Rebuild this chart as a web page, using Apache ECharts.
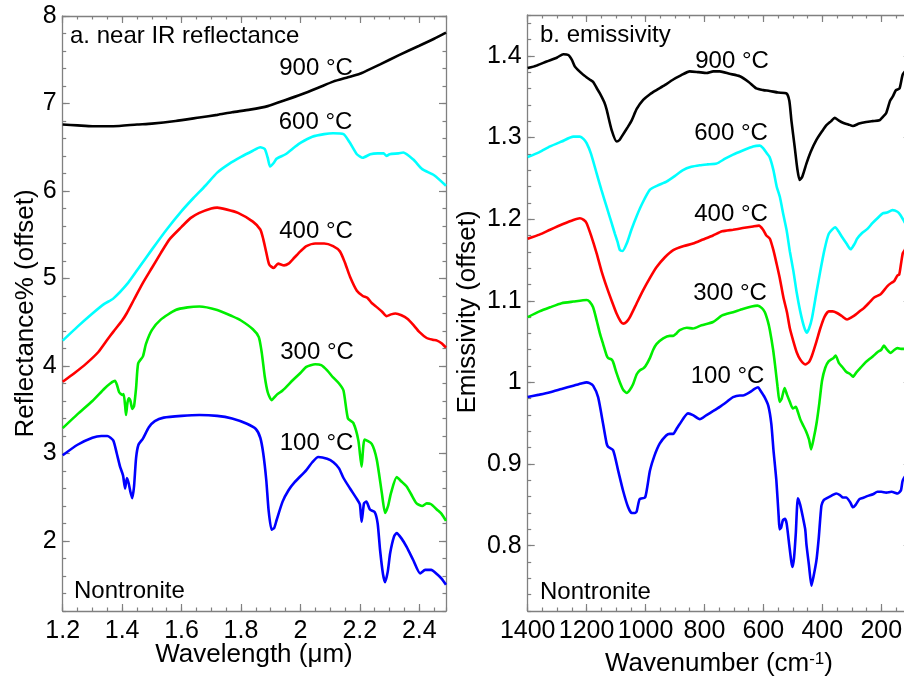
<!DOCTYPE html>
<html><head><meta charset="utf-8">
<script src="https://cdn.jsdelivr.net/npm/echarts@6/dist/echarts.min.js"></script>
<style>html,body{margin:0;padding:0;background:#fff}#c{width:904px;height:680px}</style>
</head><body><div id="c"></div>
<script>
// ---------- DATA ----------
// a. near IR reflectance: [wavelength (um), reflectance% (offset)]
const nir900 = [[1.20,6.76],[1.25,6.75],[1.30,6.74],[1.37,6.74],[1.45,6.76],[1.50,6.77],[1.58,6.80],[1.66,6.84],[1.72,6.87],[1.77,6.90],[1.83,6.93],[1.89,6.97],[1.95,7.04],[2.00,7.10],[2.06,7.18],[2.11,7.25],[2.16,7.30],[2.20,7.34],[2.22,7.37],[2.27,7.45],[2.33,7.55],[2.40,7.66],[2.45,7.74],[2.49,7.81]];
const nir600 = [[1.20,4.29],[1.25,4.45],[1.30,4.60],[1.34,4.71],[1.37,4.77],[1.42,4.95],[1.46,5.14],[1.50,5.33],[1.55,5.56],[1.60,5.77],[1.64,5.92],[1.68,6.06],[1.72,6.21],[1.76,6.31],[1.80,6.39],[1.84,6.46],[1.865,6.50],[1.88,6.48],[1.89,6.38],[1.898,6.28],[1.91,6.32],[1.92,6.37],[1.95,6.42],[1.98,6.50],[2.00,6.55],[2.04,6.62],[2.08,6.65],[2.11,6.66],[2.145,6.65],[2.165,6.56],[2.19,6.42],[2.21,6.38],[2.235,6.42],[2.26,6.43],[2.28,6.43],[2.29,6.40],[2.30,6.42],[2.33,6.43],[2.346,6.44],[2.38,6.36],[2.41,6.25],[2.45,6.18],[2.49,6.06]];
const nir400 = [[1.20,3.82],[1.24,3.92],[1.28,4.03],[1.32,4.16],[1.35,4.30],[1.37,4.39],[1.40,4.52],[1.415,4.60],[1.44,4.76],[1.47,4.95],[1.50,5.12],[1.53,5.29],[1.56,5.45],[1.60,5.59],[1.63,5.69],[1.66,5.75],[1.70,5.80],[1.72,5.81],[1.75,5.79],[1.79,5.75],[1.84,5.65],[1.865,5.56],[1.875,5.45],[1.885,5.30],[1.895,5.16],[1.91,5.12],[1.925,5.17],[1.945,5.15],[1.96,5.17],[1.98,5.24],[2.00,5.31],[2.02,5.37],[2.05,5.40],[2.08,5.40],[2.11,5.37],[2.133,5.31],[2.15,5.18],[2.167,5.02],[2.19,4.86],[2.21,4.80],[2.225,4.78],[2.24,4.72],[2.258,4.67],[2.275,4.62],[2.29,4.57],[2.305,4.59],[2.32,4.60],[2.34,4.58],[2.36,4.54],[2.38,4.47],[2.40,4.39],[2.425,4.32],[2.445,4.30],[2.46,4.29],[2.475,4.26],[2.49,4.21]];
const nir300 = [[1.20,3.29],[1.25,3.45],[1.30,3.60],[1.34,3.74],[1.36,3.80],[1.376,3.83],[1.383,3.78],[1.39,3.70],[1.40,3.67],[1.405,3.68],[1.41,3.55],[1.413,3.44],[1.418,3.58],[1.423,3.63],[1.428,3.60],[1.434,3.51],[1.44,3.54],[1.447,3.75],[1.454,4.03],[1.47,4.11],[1.48,4.25],[1.50,4.41],[1.53,4.53],[1.58,4.64],[1.62,4.67],[1.66,4.68],[1.72,4.64],[1.77,4.57],[1.80,4.52],[1.84,4.42],[1.86,4.33],[1.87,4.15],[1.88,3.88],[1.89,3.70],[1.903,3.61],[1.92,3.67],[1.94,3.72],[1.975,3.84],[2.00,3.92],[2.02,3.99],[2.05,4.02],[2.07,4.01],[2.09,3.95],[2.11,3.87],[2.13,3.80],[2.145,3.72],[2.16,3.40],[2.178,3.35],[2.195,3.15],[2.206,2.85],[2.216,3.16],[2.24,3.11],[2.257,2.93],[2.274,2.55],[2.285,2.32],[2.295,2.40],[2.305,2.55],[2.324,2.73],[2.34,2.68],[2.358,2.62],[2.375,2.52],[2.391,2.43],[2.41,2.40],[2.425,2.43],[2.44,2.42],[2.459,2.36],[2.475,2.31],[2.49,2.23]];
const nir100 = [[1.20,2.98],[1.25,3.10],[1.30,3.18],[1.33,3.20],[1.35,3.20],[1.37,3.15],[1.382,3.00],[1.393,2.85],[1.403,2.75],[1.41,2.60],[1.416,2.72],[1.422,2.66],[1.428,2.56],[1.434,2.49],[1.44,2.62],[1.447,2.95],[1.455,3.10],[1.47,3.17],[1.49,3.30],[1.51,3.37],[1.54,3.41],[1.60,3.43],[1.66,3.44],[1.72,3.43],[1.77,3.40],[1.82,3.34],[1.85,3.28],[1.865,3.18],[1.875,3.00],[1.885,2.70],[1.893,2.35],[1.903,2.13],[1.912,2.15],[1.92,2.24],[1.94,2.45],[1.96,2.58],[1.98,2.67],[2.02,2.81],[2.04,2.90],[2.06,2.96],[2.09,2.94],[2.111,2.90],[2.13,2.83],[2.145,2.72],[2.167,2.60],[2.19,2.48],[2.20,2.42],[2.206,2.22],[2.214,2.43],[2.222,2.45],[2.234,2.36],[2.25,2.33],[2.26,2.20],[2.268,1.90],[2.278,1.62],[2.285,1.53],[2.294,1.65],[2.302,1.86],[2.315,2.05],[2.324,2.09],[2.34,2.03],[2.358,1.93],[2.38,1.78],[2.403,1.63],[2.42,1.67],[2.44,1.67],[2.46,1.62],[2.475,1.57],[2.49,1.50]];

// b. emissivity: [wavenumber (cm-1), emissivity (offset)]
const tir900 = [[1400,1.385],[1370,1.388],[1336,1.393],[1300,1.398],[1279,1.402],[1262,1.401],[1250,1.395],[1240,1.387],[1212,1.377],[1190,1.371],[1178,1.368],[1165,1.360],[1155,1.354],[1140,1.343],[1132,1.334],[1115,1.309],[1098,1.295],[1088,1.297],[1081,1.301],[1060,1.313],[1047,1.321],[1030,1.335],[1008,1.346],[985,1.353],[963,1.358],[935,1.364],[906,1.371],[880,1.376],[850,1.381],[820,1.380],[793,1.379],[770,1.381],[748,1.381],[715,1.378],[680,1.375],[650,1.368],[624,1.360],[600,1.358],[579,1.357],[550,1.355],[522,1.354],[512,1.345],[505,1.321],[494,1.289],[485,1.262],[477,1.248],[468,1.252],[454,1.268],[440,1.282],[420,1.297],[400,1.308],[386,1.315],[370,1.320],[358,1.324],[345,1.321],[330,1.318],[312,1.316],[296,1.314],[275,1.317],[251,1.319],[230,1.320],[206,1.321],[195,1.325],[183,1.330],[170,1.345],[161,1.350],[150,1.358],[138,1.360],[127,1.377],[110,1.385]];
const tir600 = [[1400,1.276],[1360,1.282],[1324,1.289],[1285,1.295],[1245,1.301],[1223,1.301],[1210,1.298],[1200,1.293],[1185,1.280],[1166,1.256],[1150,1.236],[1132,1.215],[1115,1.195],[1104,1.182],[1095,1.172],[1087,1.162],[1078,1.161],[1064,1.170],[1048,1.187],[1031,1.203],[1010,1.220],[985,1.236],[960,1.241],[929,1.246],[900,1.253],[873,1.260],[845,1.264],[816,1.266],[790,1.267],[759,1.268],[730,1.274],[703,1.279],[670,1.284],[635,1.289],[612,1.290],[601,1.287],[589,1.281],[579,1.276],[566,1.260],[555,1.240],[544,1.227],[532,1.205],[521,1.186],[510,1.160],[498,1.136],[487,1.110],[475,1.087],[462,1.068],[453,1.061],[445,1.066],[435,1.079],[420,1.110],[407,1.136],[393,1.162],[378,1.182],[356,1.190],[345,1.185],[333,1.178],[318,1.170],[304,1.163],[290,1.170],[282,1.176],[265,1.183],[247,1.188],[230,1.195],[213,1.201],[195,1.207],[180,1.208],[162,1.211],[145,1.209],[135,1.205],[122,1.197],[110,1.190]];
const tir400 = [[1400,1.176],[1360,1.181],[1324,1.187],[1280,1.194],[1245,1.199],[1223,1.201],[1210,1.199],[1200,1.195],[1185,1.180],[1166,1.158],[1150,1.137],[1132,1.117],[1115,1.100],[1098,1.084],[1085,1.075],[1076,1.072],[1065,1.074],[1053,1.080],[1030,1.097],[1008,1.113],[985,1.128],[963,1.141],[935,1.153],[906,1.162],[870,1.167],[839,1.170],[805,1.175],[771,1.180],[740,1.185],[703,1.187],[670,1.189],[635,1.191],[615,1.192],[601,1.187],[590,1.180],[578,1.176],[566,1.162],[555,1.145],[544,1.127],[532,1.104],[520,1.086],[510,1.066],[498,1.050],[487,1.037],[475,1.028],[458,1.022],[445,1.025],[435,1.033],[420,1.050],[407,1.066],[393,1.080],[378,1.087],[365,1.087],[350,1.085],[333,1.081],[316,1.077],[300,1.080],[287,1.083],[270,1.088],[259,1.091],[240,1.098],[224,1.104],[202,1.108],[190,1.113],[179,1.118],[165,1.122],[156,1.124],[145,1.131],[139,1.132],[133,1.145],[127,1.158],[122,1.161],[110,1.170]];
const tir300 = [[1400,1.080],[1360,1.087],[1324,1.092],[1285,1.097],[1245,1.099],[1200,1.101],[1190,1.099],[1178,1.092],[1166,1.076],[1155,1.060],[1144,1.047],[1132,1.033],[1127,1.030],[1115,1.028],[1110,1.025],[1098,1.011],[1087,1.000],[1076,0.991],[1064,0.987],[1053,0.991],[1042,0.998],[1030,1.010],[1019,1.015],[1008,1.017],[1000,1.020],[985,1.030],[974,1.040],[963,1.047],[940,1.054],[918,1.057],[906,1.057],[895,1.060],[884,1.064],[860,1.067],[839,1.066],[810,1.070],[771,1.074],[740,1.082],[703,1.086],[670,1.090],[640,1.093],[620,1.094],[605,1.091],[595,1.086],[585,1.075],[578,1.064],[567,1.040],[560,1.020],[552,0.995],[545,0.976],[538,0.980],[528,0.993],[520,0.985],[510,0.976],[500,0.968],[490,0.970],[484,0.965],[475,0.955],[466,0.948],[455,0.940],[445,0.930],[438,0.918],[430,0.930],[420,0.949],[410,0.975],[401,1.002],[390,1.018],[378,1.026],[362,1.030],[355,1.033],[344,1.024],[330,1.018],[319,1.013],[305,1.010],[296,1.007],[285,1.012],[270,1.018],[255,1.024],[242,1.028],[228,1.032],[213,1.037],[200,1.040],[191,1.045],[180,1.040],[168,1.036],[155,1.040],[145,1.042],[133,1.041],[122,1.041],[110,1.045]];
const tir100 = [[1400,0.982],[1360,0.985],[1324,0.988],[1285,0.992],[1245,0.996],[1215,0.999],[1200,1.000],[1190,0.999],[1178,0.996],[1161,0.982],[1144,0.949],[1132,0.925],[1127,0.921],[1110,0.917],[1093,0.892],[1076,0.867],[1059,0.847],[1047,0.840],[1036,0.840],[1030,0.842],[1020,0.857],[1002,0.859],[995,0.870],[985,0.892],[970,0.910],[952,0.925],[930,0.935],[918,0.937],[906,0.937],[895,0.943],[884,0.949],[856,0.962],[839,0.960],[816,0.955],[793,0.960],[770,0.965],[748,0.970],[725,0.976],[703,0.982],[680,0.984],[669,0.984],[646,0.988],[630,0.992],[618,0.994],[610,0.990],[596,0.982],[583,0.971],[573,0.949],[566,0.918],[556,0.880],[548,0.835],[545,0.820],[540,0.822],[534,0.831],[527,0.833],[521,0.827],[512,0.800],[505,0.780],[501,0.774],[496,0.785],[490,0.815],[483,0.858],[475,0.850],[466,0.835],[458,0.820],[454,0.802],[445,0.775],[437,0.751],[430,0.762],[420,0.782],[412,0.810],[403,0.849],[395,0.856],[386,0.858],[370,0.861],[353,0.864],[340,0.862],[330,0.859],[319,0.859],[305,0.853],[296,0.847],[287,0.850],[274,0.857],[259,0.859],[245,0.861],[228,0.863],[213,0.866],[200,0.866],[183,0.865],[165,0.866],[144,0.864],[133,0.868],[127,0.880],[110,0.890]];

// tick labels
const nirXTicks = [1.2, 1.4, 1.6, 1.8, 2.0, 2.2, 2.4];
const nirYTicks = [2, 3, 4, 5, 6, 7, 8];
const tirXTicks = [1400, 1200, 1000, 800, 600, 400, 200];
const tirYTicks = [0.8, 0.9, 1.0, 1.1, 1.2, 1.3, 1.4];
const tempLabels = ['900 °C', '600 °C', '400 °C', '300 °C', '100 °C'];
const seriesColors = ['#000000', '#00ffff', '#ff0000', '#00ee00', '#0000ff'];

// ---------- CHART ----------
const FONT = '"Liberation Sans", Arial, Helvetica, sans-serif';
const AX = '#808080';
const chart = echarts.init(document.getElementById('c'), null, {renderer: 'canvas'});

function fmt(v) { return String(+(+v).toFixed(3)); }

function axisSet(dim, grid, pos, min, max, step, majors, labels, inverse) {
  const minor = {
    type: 'value', gridIndex: grid, position: pos, min: min, max: max, interval: step, inverse: !!inverse,
    axisLine: {show: true, onZero: false, lineStyle: {color: AX, width: 1.3}},
    axisTick: {show: true, inside: true, length: 3.5, lineStyle: {color: AX, width: 1.2}},
    axisLabel: {show: false}, splitLine: {show: false}, minorTick: {show: false}
  };
  const major = {
    type: 'value', gridIndex: grid, position: pos, min: min, max: max, inverse: !!inverse,
    axisLine: {show: false, onZero: false},
    axisTick: {show: true, inside: true, length: 7, customValues: majors, lineStyle: {color: AX, width: 1.2}},
    axisLabel: {show: labels, customValues: majors, formatter: fmt, color: '#000', fontSize: 25,
      fontFamily: FONT, margin: dim === 'x' ? 8 : 6, hideOverlap: false, showMinLabel: true, showMaxLabel: true},
    splitLine: {show: false}
  };
  return [minor, major];
}

const xAxes = [].concat(
  axisSet('x', 0, 'bottom', 1.2, 2.49, 0.05, nirXTicks, true, false),
  axisSet('x', 0, 'top', 1.2, 2.49, 0.05, nirXTicks, false, false),
  axisSet('x', 1, 'bottom', 100, 1400, 50, tirXTicks, true, true),
  axisSet('x', 1, 'top', 100, 1400, 50, tirXTicks, false, true)
);
const yAxes = [].concat(
  axisSet('y', 0, 'left', 1.2, 8, 0.2, nirYTicks, true, false),
  axisSet('y', 0, 'right', 1.2, 8, 0.2, nirYTicks, false, false),
  axisSet('y', 1, 'left', 0.72, 1.45, 0.02, tirYTicks, true, false),
  axisSet('y', 1, 'right', 0.72, 1.45, 0.02, tirYTicks, false, false)
);

const nirSets = [nir900, nir600, nir400, nir300, nir100];
const tirSets = [tir900, tir600, tir400, tir300, tir100];
const series = [];
nirSets.forEach((d, i) => series.push({
  type: 'line', name: 'nir ' + tempLabels[i], xAxisIndex: 0, yAxisIndex: 0, data: d,
  showSymbol: false, symbol: 'none', smooth: 0.2, animation: false,
  lineStyle: {color: seriesColors[i], width: 2.6}, itemStyle: {color: seriesColors[i]}
}));
tirSets.forEach((d, i) => series.push({
  type: 'line', name: 'tir ' + tempLabels[i], xAxisIndex: 4, yAxisIndex: 4, data: d,
  showSymbol: false, symbol: 'none', smooth: 0.2, animation: false,
  lineStyle: {color: seriesColors[i], width: 2.6}, itemStyle: {color: seriesColors[i]}
}));

function txt(x, y, s, size, align, rot) {
  return {type: 'text', x: x, y: y, rotation: rot || 0, silent: true,
    style: {text: s, fill: '#000', font: size + 'px ' + FONT, align: align || 'center', verticalAlign: 'middle'}};
}
const nirLabelPos = [[316, 68], [315.5, 122.5], [316, 231], [317, 352], [316.5, 443]];
const tirLabelPos = [[732, 61.5], [731, 133.5], [731, 214], [730, 293.5], [727.5, 376]];
const graphics = [
  txt(70, 36, 'a. near IR reflectance', 24, 'left'),
  txt(540, 35, 'b. emissivity', 24, 'left'),
  txt(74, 591, 'Nontronite', 24, 'left'),
  txt(540, 592, 'Nontronite', 24, 'left'),
  txt(26, 313.5, 'Reflectance% (offset)', 26, 'center', Math.PI / 2),
  txt(468, 312, 'Emissivity (offset)', 26, 'center', Math.PI / 2),
  txt(254, 655, 'Wavelength (\u03bcm)', 26, 'center'),
  {type: 'text', x: 719, y: 664, silent: true,
    style: {text: '{a|Wavenumber (cm}{s|-1}{a|)}', align: 'center', verticalAlign: 'middle',
      rich: {a: {fontSize: 26, fontFamily: FONT, color: '#000', lineHeight: 26},
             s: {fontSize: 17, fontFamily: FONT, color: '#000', verticalAlign: 'top', lineHeight: 18}}}}
];
tempLabels.forEach((t, i) => {
  graphics.push(txt(nirLabelPos[i][0], nirLabelPos[i][1], t, 24, 'center'));
  graphics.push(txt(tirLabelPos[i][0], tirLabelPos[i][1], t, 24, 'center'));
});

chart.setOption({
  animation: false,
  backgroundColor: '#ffffff',
  textStyle: {fontFamily: FONT},
  grid: [
    {left: 62.7, top: 16, width: 383.3, height: 595, containLabel: false, outerBoundsMode: 'none'},
    {left: 527.7, top: 15, width: 383, height: 596, containLabel: false, outerBoundsMode: 'none'}
  ],
  xAxis: xAxes,
  yAxis: yAxes,
  series: series,
  graphic: graphics
});
</script>
</body></html>
